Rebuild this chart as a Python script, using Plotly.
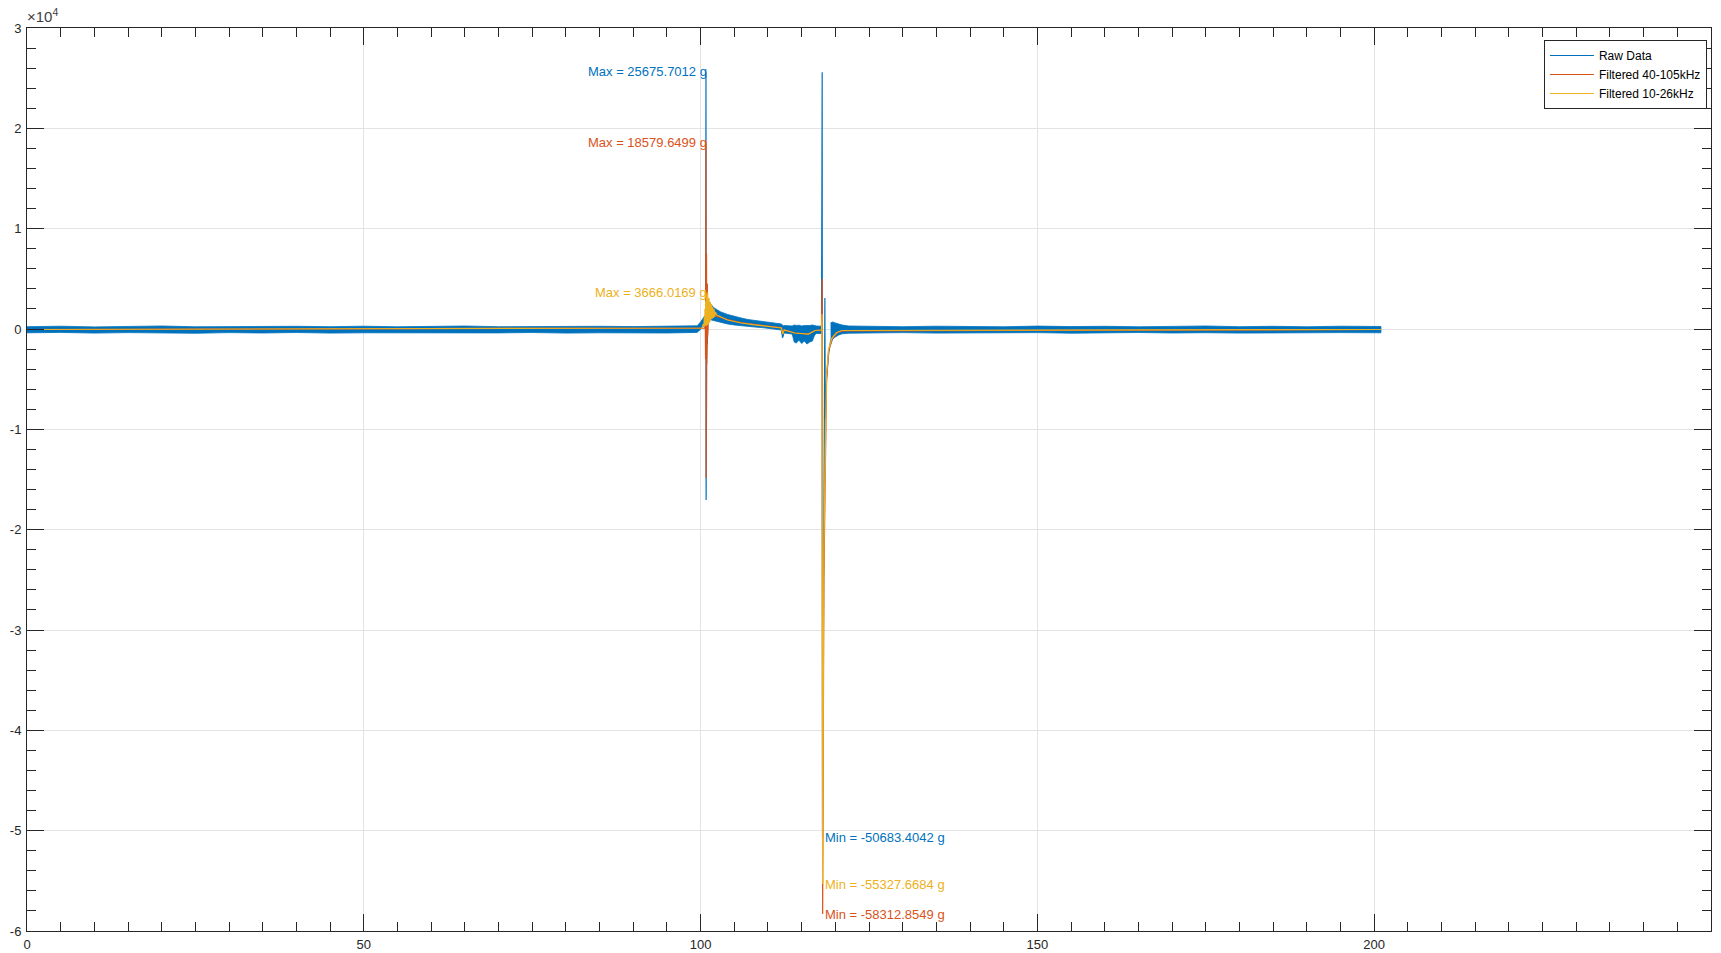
import plotly.graph_objects as go

# ---------------- data ----------------
# Raw data: main path (spikes & trend)
raw_x = [0, 99.8, 100.3, 100.6, 100.75, 100.8, 100.82, 100.86, 100.9, 100.95, 101.0, 101.1,
         102, 104, 106, 108, 110, 112, 112.2, 112.4, 113.5, 114, 116.8, 117.2, 117.95,
         118.05, 118.1, 118.2, 118.35, 118.45, 118.5, 118.7, 119.0, 119.3, 120, 121, 201]
raw_y = [-80, -80, 300, 900, 1200, 25675.7, -17040, 8900, -4000, 4500, -1500, 2600,
         1500, 1000, 750, 550, 400, 250, -800, 0, -100, -600, -700, -150, -150,
         25600, -50683.4, -30000, -15000, 3090, -9000, -5000, -2500, -1200, -400, -150, -80]

# Raw data noise envelope (three stretches)
bandA_x = [0, 5, 10, 15, 20, 25, 30, 35, 40, 45, 50, 55, 60, 65, 70, 75, 80, 85, 90, 95, 99.5, 100.0, 100.3, 100.6]
bandA_hi = [230, 280, 210, 260, 300, 220, 250, 210, 270, 230, 280, 220, 250, 300, 230, 260, 220, 270, 240, 290, 320, 700, 1000, 1300]
bandA_lo = [-380, -340, -410, -360, -390, -430, -360, -400, -350, -410, -380, -360, -420, -370, -390, -350, -410, -380, -360, -400, -340, -100, 200, 400]

bandB_x = [100.9, 101.2, 101.6, 102, 103, 104, 105, 106, 107, 108, 109, 110, 111, 112, 112.15, 112.25,
           112.4, 113, 113.6, 113.9, 114.2, 114.6, 115, 115.4, 115.8, 116.2, 116.6, 116.9, 117.2, 117.9]
bandB_hi = [3000, 2700, 2400, 2100, 1700, 1450, 1250, 1100, 950, 850, 750, 650, 600, 500, 400, 300,
            350, 350, 300, 400, 350, 380, 300, 350, 320, 350, 400, 350, 300, 280]
bandB_lo = [900, 1000, 900, 800, 650, 500, 400, 300, 250, 200, 150, 100, 0, -100, -900, -700,
            -400, -450, -500, -1300, -1400, -1100, -1450, -1200, -1500, -1300, -1200, -600, -450, -450]

bandC_x = [119.3, 119.6, 120, 120.5, 121, 122, 125, 130, 135, 140, 145, 150, 155, 160, 165, 170,
           175, 180, 185, 190, 195, 201]
bandC_hi = [600, 700, 600, 500, 400, 300, 270, 230, 280, 250, 220, 290, 240, 270, 220, 260,
            300, 230, 270, 220, 280, 250]
bandC_lo = [-1600, -1000, -800, -600, -480, -420, -380, -360, -410, -370, -400, -360, -420, -380, -350, -400,
            -370, -410, -360, -390, -360, -380]

# Filtered 40-105 kHz
f1_x = [0, 100.6, 100.7, 100.74, 100.76, 100.78, 100.8, 100.82, 100.84, 100.86, 100.88, 100.9,
        100.92, 100.94, 100.96, 100.98, 101.0, 101.03, 101.06, 101.1, 101.15, 101.2, 101.3, 101.5,
        102, 104, 106, 108, 110, 112,
        112.2, 112.4, 114, 116, 117, 117.95, 118.05, 118.12, 118.3, 118.5, 118.7, 119.0, 119.5,
        120.2, 121, 201]
f1_y = [-50, 100, 400, -3000, 5000, -6000, 18579.65, -14850, 9000, -4000, 7500, -3500,
        6500, -2500, 5500, -1500, 4500, -800, 3800, 0, 3000, 600, 2200, 1700,
        1350, 950, 650, 450, 280, 120,
        -500, -100, -400, -500, -150, -100, 5000, -58312.85, -25000, -12000, -5000, -2200, -1000,
        -400, -200, -50]

# Filtered 10-26 kHz
f2_x = [0, 100.2, 100.4, 100.5, 100.55, 100.6, 100.65, 100.7, 100.75, 100.8, 100.85, 100.9,
        100.95, 101.0, 101.05, 101.1, 101.15, 101.2, 101.25, 101.3, 101.35, 101.4, 101.45, 101.5,
        101.6, 101.7, 101.8, 101.9, 102.0, 102.1, 102.2, 102.4, 104, 106, 108,
        110, 112, 112.2, 112.4, 114, 116, 117, 117.95, 118.03, 118.11, 118.3, 118.5, 118.7, 119.0,
        119.5, 120.2, 121, 201]
f2_y = [-50, 100, 500, 300, 1200, 400, 2000, 350, 2800, 300, 3400, 350,
        3666.02, 400, 3500, 500, 3300, 600, 3100, 700, 2900, 800, 2700, 900,
        2500, 1000, 2200, 1100, 2000, 1200, 1700, 1400, 900, 600, 420,
        260, 100, -500, -100, -400, -500, -150, -100, 1500, -55327.67, -22000, -10000, -4500, -2000,
        -900, -350, -150, -50]

# annotation texts
max_labels = ["Max = 25675.7012 g", "Max = 18579.6499 g", "Max = 3666.0169 g"]
max_vals = [25675.7012, 18579.6499, 3666.0169]
min_labels = ["Min = -50683.4042 g", "Min = -55327.6684 g", "Min = -58312.8549 g"]
min_vals = [-50683.4042, -55327.6684, -58312.8549]
max_x = 100.8
min_x = 118.1

series_names = ["Raw Data", "Filtered 40-105kHz", "Filtered 10-26kHz"]
BLUE, ORANGE, YELLOW = "#0072BD", "#D95319", "#EDB120"

x_ticks = [0, 50, 100, 150, 200, 250]
y_ticks = [-60000, -50000, -40000, -30000, -20000, -10000, 0, 10000, 20000, 30000]
y_ticktext = ["-6", "-5", "-4", "-3", "-2", "-1", "0", "1", "2", "3"]

# ---------------- figure ----------------
fig = go.Figure()

for bx, bh, bl in [(bandA_x, bandA_hi, bandA_lo), (bandB_x, bandB_hi, bandB_lo), (bandC_x, bandC_hi, bandC_lo)]:
    fig.add_trace(go.Scatter(
        x=bx + bx[::-1], y=bh + bl[::-1], fill="toself", fillcolor=BLUE,
        line=dict(color=BLUE, width=0.8), mode="lines", showlegend=False, hoverinfo="skip"))

fig.add_trace(go.Scatter(x=raw_x, y=raw_y, mode="lines", name=series_names[0],
                         line=dict(color=BLUE, width=1.2)))
fig.add_trace(go.Scatter(x=f1_x, y=f1_y, mode="lines", name=series_names[1],
                         line=dict(color=ORANGE, width=1.2)))
fig.add_trace(go.Scatter(x=f2_x, y=f2_y, mode="lines", name=series_names[2],
                         line=dict(color=YELLOW, width=1.2)))

FONT = "Liberation Sans, Arial, Helvetica, sans-serif"
colors = [BLUE, ORANGE, YELLOW]
for lab, v, c in zip(max_labels, max_vals, colors):
    fig.add_annotation(x=max_x, y=v, text=lab, showarrow=False, xanchor="right", yanchor="middle",
                       xshift=3, font=dict(family=FONT, size=13, color=c))
min_colors = [BLUE, YELLOW, ORANGE]
for lab, v, c in zip(min_labels, min_vals, min_colors):
    fig.add_annotation(x=min_x, y=v, text=lab, showarrow=False, xanchor="left", yanchor="middle",
                       xshift=0, font=dict(family=FONT, size=13, color=c))

fig.add_annotation(xref="paper", yref="paper", x=0, y=1, text="×10<sup>4</sup>", showarrow=False,
                   xanchor="left", yanchor="bottom", yshift=1, xshift=-2,
                   font=dict(family=FONT, size=15, color="#404040"))

AX = "#262626"
GRID = "#e3e3e3"
fig.update_xaxes(range=[0, 250], tickvals=x_ticks, ticks="inside", ticklen=17, tickcolor=AX,
                 showline=True, linecolor=AX, linewidth=1, mirror="ticks",
                 showgrid=True, gridcolor=GRID, gridwidth=1, zeroline=False,
                 tickfont=dict(family=FONT, size=13, color=AX), automargin=False,
                 ticklabelstandoff=1,
                 minor=dict(dtick=5, tick0=0, ticks="inside", ticklen=9, tickcolor=AX, showgrid=False))
fig.update_yaxes(range=[-60000, 30000], tickvals=y_ticks, ticktext=y_ticktext, ticks="inside",
                 ticklen=17, tickcolor=AX, showline=True, linecolor=AX, linewidth=1, mirror="ticks",
                 showgrid=True, gridcolor=GRID, gridwidth=1, zeroline=False,
                 tickfont=dict(family=FONT, size=13, color=AX), automargin=False,
                 ticklabelstandoff=2,
                 minor=dict(dtick=2000, tick0=0, ticks="inside", ticklen=9, tickcolor=AX, showgrid=False))

fig.update_layout(
    width=1721, height=953,
    margin=dict(l=27, r=10, t=28, b=22, pad=0),
    paper_bgcolor="white", plot_bgcolor="white",
    font=dict(family=FONT, size=13, color=AX),
    legend=dict(x=0.9976, y=0.9867, xanchor="right", yanchor="top",
                bgcolor="white", bordercolor=AX, borderwidth=1,
                font=dict(family=FONT, size=12, color="#000000"),
                tracegroupgap=0, itemwidth=44),
    showlegend=True,
)

fig.write_html("out.html", config={"displayModeBar": False})
with open("out.html", "r", encoding="utf-8") as fh:
    html = fh.read()
html = html.replace("<head>", "<head><style>html,body{margin:0;padding:0;overflow:hidden}</style>", 1)
with open("out.html", "w", encoding="utf-8") as fh:
    fh.write(html)
